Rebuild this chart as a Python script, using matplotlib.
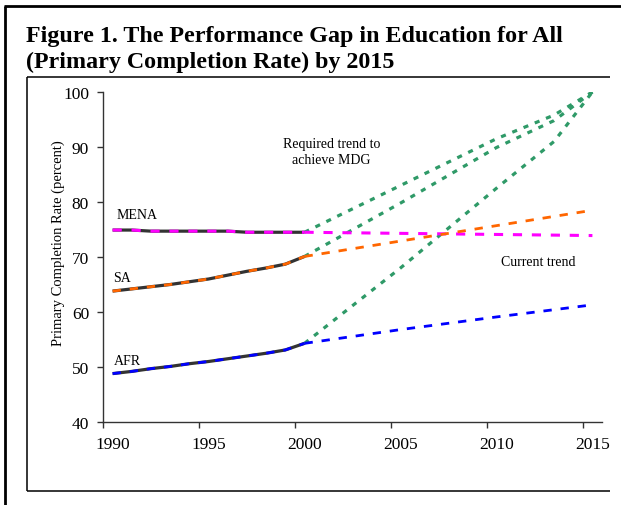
import numpy as np
import matplotlib
matplotlib.use("Agg")
import matplotlib.pyplot as plt
from matplotlib.lines import Line2D

plt.rcParams['font.family'] = ['Liberation Serif', 'DejaVu Serif']

# historical series 1990-2000
years_hist = [1990, 1991, 1992, 1993, 1994, 1995, 1996, 1997, 1998, 1999, 2000]
mena_hist = [74.9, 74.9, 74.7, 74.7, 74.7, 74.7, 74.7, 74.5, 74.5, 74.5, 74.5]
sa_hist = [63.8, 64.2, 64.6, 65.0, 65.5, 66.0, 66.7, 67.4, 68.0, 68.7, 70.1]
afr_hist = [48.8, 49.2, 49.7, 50.1, 50.6, 51.0, 51.5, 52.0, 52.5, 53.1, 54.3]

# current trend 2000-2015
years_trend = [2000, 2005, 2010, 2015]
mena_trend = [74.5, 74.3, 74.1, 73.9]
sa_trend = [70.1, 72.9, 75.7, 78.5]
afr_trend = [54.3, 56.8, 59.1, 61.3]

# required trend to reach the MDG
years_req = [2000, 2005, 2010, 2013, 2015]
mena_req = [74.5, 83.0, 91.5, 95.8, 100.0]
sa_req = [70.1, 79.8, 89.9, 94.8, 100.0]
afr_req = [54.3, 68.0, 82.5, 91.0, 100.0]

x_ticks = [1990, 1995, 2000, 2005, 2010, 2015]
y_ticks = [40, 50, 60, 70, 80, 90, 100]

W, H = 621, 506
fig = plt.figure(figsize=(W / 100, H / 100), dpi=100)

# frames around the figure (pixel coords -> figure fraction)
def fline(x0, y0, x1, y1, lw):
    fig.add_artist(Line2D([x0 / W, x1 / W], [1 - y0 / H, 1 - y1 / H],
                          color='black', lw=lw, solid_capstyle='butt'))

fline(5, 7, 5, 506, 2.0)
fline(4, 7, 621, 7, 2.0)
fline(27, 78, 27, 492, 1.1)
fline(27, 78, 610, 78, 1.1)
fline(27, 492, 610, 492, 1.1)

fig.text(26 / W, 1 - 42 / H, "Figure 1. The Performance Gap in Education for All",
         fontsize=17.3, fontweight='bold', ha='left', va='baseline')
fig.text(26 / W, 1 - 68 / H, "(Primary Completion Rate) by 2015",
         fontsize=17.3, fontweight='bold', ha='left', va='baseline')

ax = fig.add_axes([103 / W, 1 - 423 / H, 499 / W, 330 / H])

black = '#333333'
green = '#2f9a68'
dash = (0, (3, 3.2))

for xs, ys in [(years_hist, mena_hist), (years_hist, sa_hist), (years_hist, afr_hist)]:
    ax.plot(xs, ys, color=black, lw=2.3, solid_capstyle='butt', zorder=2)

for ys in [mena_req, sa_req, afr_req]:
    ax.plot(years_req, ys, color=green, lw=2.3, ls=(0, (1.6, 2.2)), zorder=3)

ax.plot(years_hist, mena_hist, color='#ff00ff', lw=2.2, ls=dash, zorder=4)
ax.plot(years_trend, mena_trend, color='#ff00ff', lw=2.2, ls=dash, zorder=4)
ax.plot(years_hist, sa_hist, color='#ff6600', lw=2.0, ls=dash, zorder=4)
ax.plot(years_trend, sa_trend, color='#ff6600', lw=2.0, ls=dash, zorder=4)
ax.plot(years_hist, afr_hist, color='#0000ff', lw=2.0, ls=dash, zorder=4)
ax.plot(years_trend, afr_trend, color='#0000ff', lw=2.0, ls=dash, zorder=4)

ax.set_xlim(1989.5, 2015.5)
ax.set_ylim(40, 100)

# category axis: tick marks between categories, labels centred on them
ax.set_xticks([t - 0.5 for t in x_ticks])
ax.set_xticklabels([])
ax.set_xticks(x_ticks, minor=True)
ax.set_xticklabels([str(t) for t in x_ticks], minor=True, fontsize=12.5)
ax.tick_params(axis='x', which='minor', length=0, pad=10)
ax.tick_params(axis='x', which='major', direction='out', length=4, width=1, color=black)
ax.set_yticks(y_ticks)
ax.set_yticklabels([str(t) for t in y_ticks], fontsize=12.5)
ax.tick_params(axis='y', direction='out', length=4, width=1, color=black, pad=6)

for s in ['top', 'right']:
    ax.spines[s].set_visible(False)
for s in ['left', 'bottom']:
    ax.spines[s].set_color(black)
    ax.spines[s].set_linewidth(1.0)

fig.text(58 / W, 1 - 243 / H, "Primary Completion Rate (percent)", rotation=90,
         ha='center', va='center', fontsize=10.5)

ax.text(1990.2, 77.8, "MENA", fontsize=10, ha='left', va='center')
ax.text(1990.05, 66.3, "SA", fontsize=10, ha='left', va='center')
ax.text(1990.05, 51.2, "AFR", fontsize=10, ha='left', va='center')
ax.text(2001.4, 89.1, "Required trend to\nachieve MDG", fontsize=10, ha='center', va='center',
        linespacing=1.3)
ax.text(2012.2, 69.1, "Current trend", fontsize=10, ha='center', va='center')

fig.savefig("out.png", dpi=100)
